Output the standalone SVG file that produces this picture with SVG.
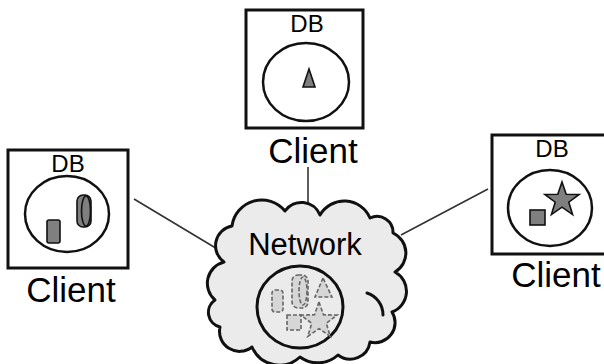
<svg xmlns="http://www.w3.org/2000/svg" width="604" height="364" viewBox="0 0 604 364">
<style>
.box{fill:#fff;stroke:#111;stroke-width:3}
.db{fill:none;stroke:#111;stroke-width:2.5}
.lbl{font-family:"Liberation Sans",Arial,sans-serif;fill:#000;text-anchor:middle}
.sh{fill:#7f7f7f;stroke:#111;stroke-width:1.6}
.ds{fill:#d6d6d6;stroke:#666;stroke-width:1.6;stroke-dasharray:4 2}
.cn{stroke:#333;stroke-width:1.6;fill:none}
</style>
<rect width="604" height="364" fill="#fff"/>
<g id="connectors">
<line class="cn" x1="134" y1="199" x2="219" y2="250"/>
<line class="cn" x1="308" y1="167" x2="308" y2="212"/>
<line class="cn" x1="401" y1="235" x2="488" y2="189"/>
</g>
<g id="network">
<path d="M224,262 A20,20 0 0 1 232,226 A30,30 0 0 1 285,211 A20,20 0 0 1 320,215 A28,28 0 0 1 370,218 A16,16 0 0 1 393,233 A22,22 0 0 1 395,272 A22,22 0 0 1 392,312 A20,20 0 0 1 370,342 A20,20 0 0 1 338,355 A30,30 0 0 1 300,357 A30,30 0 0 1 252,347 A20,20 0 0 1 220,327 A15,15 0 0 1 215,300 A22,22 0 0 1 224,262 Z" fill="#ebebeb" stroke="#111" stroke-width="3" stroke-linejoin="round"/>
<path d="M367,293 A23,23 0 0 1 383,315" fill="none" stroke="#111" stroke-width="3" stroke-linecap="round"/>
<text class="lbl" x="305" y="255" font-size="31">Network</text>
<ellipse cx="300" cy="307" rx="43" ry="41" fill="#ebebeb" stroke="#111" stroke-width="3"/>
<rect class="ds" x="272" y="290" width="11" height="22" rx="3"/>
<rect class="ds" x="292" y="275" width="16" height="33" rx="6"/>
<ellipse class="ds" cx="303" cy="291" rx="4" ry="14" fill="none"/>
<polygon class="ds" points="323,278 315,297 332,297"/>
<rect class="ds" x="287" y="315" width="14" height="15"/>
<polygon class="ds" points="319,302 323.5,314.8 337.1,315.1 326.3,323.3 330.2,336.4 319,328.6 307.8,336.4 311.7,323.3 300.9,315.1 314.5,314.8"/>
</g>
<g id="client-left">
<rect class="box" x="8" y="150" width="120" height="118"/>
<text class="lbl" x="68" y="172" font-size="24">DB</text>
<ellipse class="db" cx="67" cy="214" rx="42" ry="38"/>
<rect class="sh" x="47" y="220" width="13" height="23" rx="2"/>
<rect class="sh" x="77" y="195" width="14" height="32" rx="6"/>
<ellipse class="sh" cx="86" cy="211" rx="4.5" ry="15"/>
<text class="lbl" x="71" y="302" font-size="35">Client</text>
</g>
<g id="client-top">
<rect class="box" x="246" y="10" width="117" height="118"/>
<text class="lbl" x="307" y="32" font-size="24">DB</text>
<ellipse class="db" cx="306" cy="82" rx="43" ry="39"/>
<polygon class="sh" points="309,69 303,87 315,87"/>
<text class="lbl" x="313" y="163" font-size="35">Client</text>
</g>
<g id="client-right">
<rect class="box" x="492" y="135" width="114" height="119"/>
<text class="lbl" x="552" y="157" font-size="24">DB</text>
<ellipse class="db" cx="550" cy="208" rx="42" ry="38"/>
<rect class="sh" x="530" y="210" width="15" height="15"/>
<polygon class="sh" points="562,182 566.2,194.2 579.1,194.4 568.8,202.2 572.6,214.6 562,207.2 551.4,214.6 555.2,202.2 544.9,194.4 557.8,194.2"/>
<text class="lbl" x="556" y="287" font-size="35">Client</text>
</g>
</svg>
